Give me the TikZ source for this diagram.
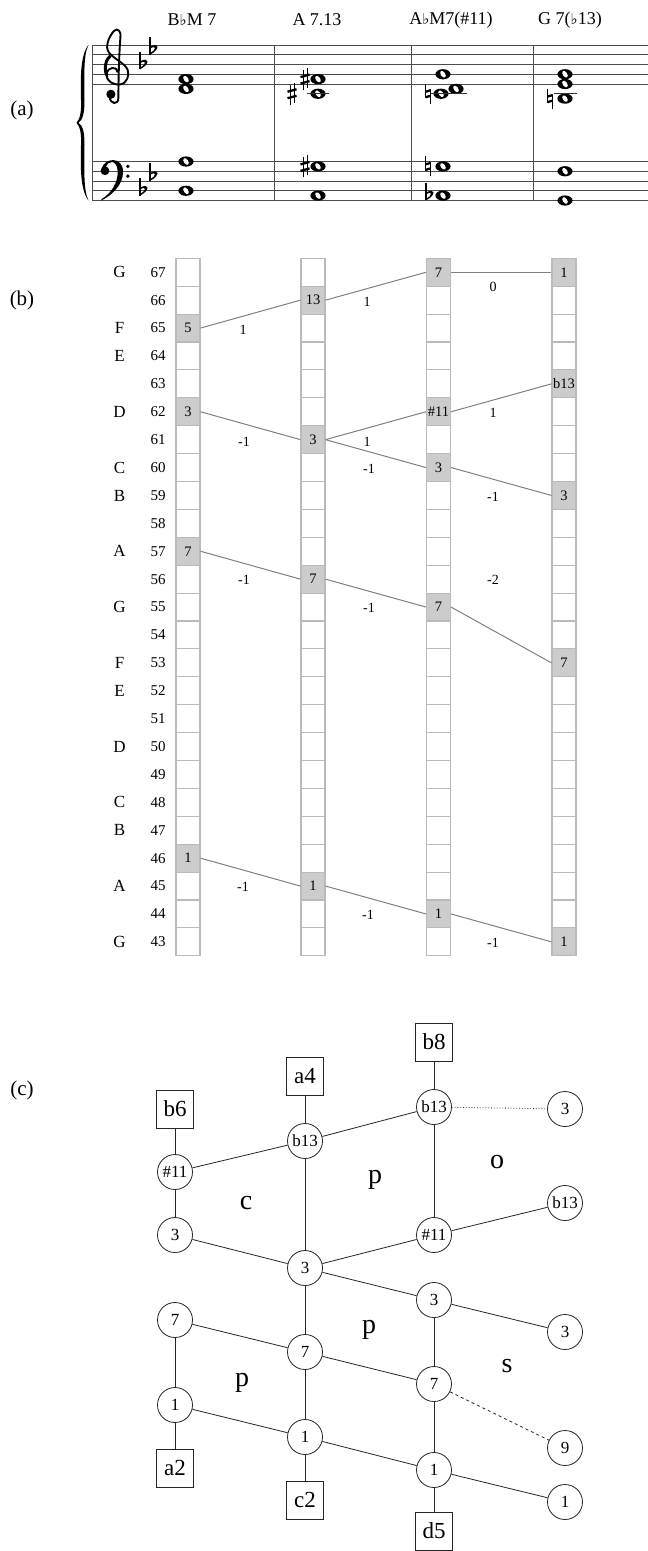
\documentclass[tikz,border=0pt]{standalone}
\usepackage{fontspec}
\setmainfont{Liberation Serif}
\newfontfamily\symfont{DejaVu Sans}
\newcommand{\wnote}[2]{%
  \fill[black] (#1,#2) ellipse [x radius=7.6, y radius=5.1];
  \fill[white, rotate around={35:(#1,#2)}] (#1,#2) ellipse [x radius=2.2, y radius=3.7];}
\newcommand{\mySharp}[2]{%
  \draw[line width=0.9pt] ({#1-2},{#2-9}) -- ({#1-2},{#2+11}) ({#1+2},{#2-11}) -- ({#1+2},{#2+9});
  \draw[line width=2.3pt] ({#1-4.5},{#2-2}) -- ({#1+4.5},{#2-4.5}) ({#1-4.5},{#2+4.5}) -- ({#1+4.5},{#2+2});}
\newcommand{\myFlat}[2]{%
  \draw[line width=1.1pt] ({#1-3},{#2-13}) -- ({#1-3},{#2+4.8});
  \fill ({#1-3},{#2+4.8}) .. controls ({#1+7.5},{#2-0.5}) and ({#1+6.5},{#2-8.5}) .. ({#1-3},{#2-3})
     -- ({#1-3},{#2-1.2}) .. controls ({#1+3.5},{#2-5.5}) and ({#1+3.8},{#2}) .. ({#1-3},{#2+3}) -- cycle;}
\newcommand{\myNatural}[2]{%
  \draw[line width=1pt] ({#1-2.5},{#2-10}) -- ({#1-2.5},{#2+4.5}) ({#1+2.5},{#2-4.5}) -- ({#1+2.5},{#2+10});
  \draw[line width=2.3pt] ({#1-2.5},{#2-2}) -- ({#1+2.5},{#2-3.5}) ({#1-2.5},{#2+3.5}) -- ({#1+2.5},{#2+2});}
\tikzset{
  staffline/.style={draw=black!70, line width=0.9pt},
  ledger/.style={draw=black!80, line width=0.9pt},
  chordlab/.style={font=\fontsize{18}{18}\selectfont},
  panel/.style={font=\fontsize{21}{21}\selectfont},
  cell/.style={rectangle, draw=black!27, line width=1.1pt, minimum width=24pt, minimum height=27.9pt, inner sep=0pt},
  cellon/.style={cell, fill=black!20, font=\fontsize{14.5}{14.5}\selectfont},
  conn/.style={draw=black!50, line width=1pt},
  elab/.style={font=\fontsize{14}{14}\selectfont},
  numlab/.style={font=\fontsize{15}{15}\selectfont},
  letlab/.style={font=\fontsize{17}{17}\selectfont},
  gnode/.style={circle, draw=black!85, line width=0.8pt, minimum size=35pt, inner sep=0pt, font=\fontsize{17}{17}\selectfont},
  gbox/.style={rectangle, draw=black!85, line width=0.8pt, minimum width=37pt, minimum height=38pt, inner sep=0pt, font=\fontsize{23}{23}\selectfont},
  gedge/.style={draw=black!85, line width=0.8pt},
  region/.style={font=\fontsize{28}{28}\selectfont},
}
\begin{document}
\begin{tikzpicture}[x=1pt,y=-1pt]
\useasboundingbox[fill=white] (0,0) rectangle (648,1551);

% ---------------- (a) music ----------------
\node[panel] (pa) at (22,110) {(a)};
\foreach \yy in {45,54.75,64.5,74.25,84,161.5,171.25,181,190.75,200.5}
  \draw[staffline] (92,\yy) -- (648,\yy);
\foreach \xx in {92,274,411,533}
  \draw[staffline] (\xx,45) -- (\xx,200.5);
% brace
\fill (88.5,45) .. controls (80,55) and (80.5,80) .. (81,100) .. controls (81.5,112) and (80,119) .. (76.5,122.75)
  .. controls (80,126.5) and (81.5,133) .. (81,145) .. controls (80.5,165) and (80,190) .. (88.5,200.5)
  .. controls (83,190) and (84.5,165) .. (84.5,145) .. controls (84.5,132) and (83,126) .. (78.5,122.75)
  .. controls (83,119.5) and (84.5,113) .. (84.5,100) .. controls (84.5,80) and (83,55) .. (88.5,45) -- cycle;
% treble clef
\begin{scope}[shift={(115,74.25)}, x=9.75pt, y=9.75pt]
  \draw[line width=1.9pt, line cap=round]
    (0.25,0.25) .. controls (0.3,0.8) and (-0.8,0.85) .. (-0.85,0.0)
    .. controls (-0.9,-0.85) and (0.0,-1.1) .. (0.5,-1.05)
    .. controls (1.25,-0.95) and (1.5,-0.1) .. (1.3,0.45)
    .. controls (1.05,1.1) and (0.0,1.5) .. (-0.6,2.2)
    .. controls (-1.1,2.8) and (-0.6,3.9) .. (-0.1,4.45)
    .. controls (0.3,4.85) and (0.7,4.3) .. (0.55,3.7)
    .. controls (0.45,2.5) and (0.35,0) .. (0.35,-2.4)
    .. controls (0.35,-3.2) and (-0.5,-3.1) .. (-0.55,-2.3);
  \draw[line width=3pt] (-0.45,1.9) .. controls (-1.2,1.3) and (-1.0,0.2) .. (-0.85,-0.1);
  \fill (-0.42,-2.05) circle (0.47);
\end{scope}
% bass clef
\begin{scope}[shift={(105,171.25)}, x=9.75pt, y=9.75pt]
  \fill (-0.35,0.3) .. controls (0.0,1.4) and (1.8,1.55) .. (1.85,0.0)
    .. controls (1.9,-1.5) and (0.5,-2.6) .. (-0.4,-3.0)
    -- (-0.35,-2.85) .. controls (0.6,-2.3) and (1.35,-1.2) .. (1.3,0.0)
    .. controls (1.25,1.2) and (0.3,1.2) .. (0.1,0.4) -- cycle;
  \fill (0.0,0.05) circle (0.45);
  \fill (2.35,0.5) circle (0.19) (2.35,-0.5) circle (0.19);
\end{scope}
% key signatures
\myFlat{143}{64.5}
\myFlat{153}{49.9}
\myFlat{143}{190.75}
\myFlat{153}{176.1}
% chord labels
\node[chordlab] (ch1) at (192,20) {B{\symfont\fontsize{15}{15}\selectfont ♭}M 7};
\node[chordlab] (ch2) at (317,20) {A 7.13};
\node[chordlab] (ch3) at (451,20) {A{\symfont\fontsize{15}{15}\selectfont ♭}M7(\#11)};
\node[chordlab] (ch4) at (570,20) {G 7({\symfont\fontsize{15}{15}\selectfont ♭}13)};
% measure 1
\wnote{186}{79.1} \wnote{186}{88.9}
\wnote{186}{161.5} \wnote{186}{190.75}
% measure 2
\wnote{318}{79.1} \wnote{318}{93.75}
\draw[ledger] (307,93.75) -- (329,93.75);
\mySharp{305}{79.1} \mySharp{292}{93.75}
\wnote{318}{166.4} \mySharp{305}{166.4}
\wnote{318}{195.6}
% measure 3
\wnote{443}{74.25} \wnote{441}{93.75} \wnote{456}{88.9}
\draw[ledger] (431,93.75) -- (467,93.75);
\myNatural{428}{93.75}
\wnote{443}{166.4} \myNatural{428}{166.4}
\wnote{443}{195.6} \myFlat{429}{195.6}
% measure 4
\wnote{565}{74.25} \wnote{565}{84} \wnote{565}{98.6}
\draw[ledger] (554,93.75) -- (577,93.75);
\myNatural{550}{98.6}
\wnote{565}{171.25} \wnote{565}{200.5}

% ---------------- (b) grid ----------------
\node[panel] (pb) at (22,300) {(b)};
\foreach \col/\x in {1/188,2/313,3/438.5,4/564}{
  \foreach \m in {43,...,67}{
    \pgfmathsetmacro{\yy}{272.25+(67-\m)*27.9}
    \node[cell] (e\col-\m) at (\x,\yy) {};
  }
}
\foreach \m in {43,...,67}{
  \pgfmathsetmacro{\yy}{272.25+(67-\m)*27.9}
  \node[numlab] (num\m) at (158,\yy) {\m};
}
\foreach \m/\t in {67/G,65/F,64/E,62/D,60/C,59/B,57/A,55/G,53/F,52/E,50/D,48/C,47/B,45/A,43/G}{
  \pgfmathsetmacro{\yy}{272.25+(67-\m)*27.9}
  \node[letlab] (let\m) at (119.5,\yy) {\t};
}
\foreach \col/\x/\m/\t in {1/188/65/5,1/188/62/3,1/188/57/7,1/188/46/1,
  2/313/66/13,2/313/61/3,2/313/56/7,2/313/45/1,
  3/438.5/67/7,3/438.5/62/{\#11},3/438.5/60/3,3/438.5/55/7,3/438.5/44/1,
  4/564/67/1,4/564/63/b13,4/564/59/3,4/564/53/7,4/564/43/1}{
  \pgfmathsetmacro{\yy}{272.25+(67-\m)*27.9}
  \node[cellon] (n\col-\m) at (\x,\yy) {\t};
}
\draw[conn] (n1-65.east) -- (n2-66.west);
\draw[conn] (n1-62.east) -- (n2-61.west);
\draw[conn] (n1-57.east) -- (n2-56.west);
\draw[conn] (n1-46.east) -- (n2-45.west);
\draw[conn] (n2-66.east) -- (n3-67.west);
\draw[conn] (n2-61.east) -- (n3-62.west);
\draw[conn] (n2-61.east) -- (n3-60.west);
\draw[conn] (n2-56.east) -- (n3-55.west);
\draw[conn] (n2-45.east) -- (n3-44.west);
\draw[conn] (n3-67.east) -- (n4-67.west);
\draw[conn] (n3-62.east) -- (n4-63.west);
\draw[conn] (n3-60.east) -- (n4-59.west);
\draw[conn] (n3-55.east) -- (n4-53.west);
\draw[conn] (n3-44.east) -- (n4-43.west);
\node[elab] (d1) at (243,330) {1};
\node[elab] (d2) at (244,441.5) {-1};
\node[elab] (d3) at (244,580) {-1};
\node[elab] (d4) at (243,887) {-1};
\node[elab] (d5) at (367,301.5) {1};
\node[elab] (d6) at (367,441.5) {1};
\node[elab] (d7) at (369,469) {-1};
\node[elab] (d8) at (369,608) {-1};
\node[elab] (d9) at (368,915) {-1};
\node[elab] (d10) at (493,287) {0};
\node[elab] (d11) at (493,413) {1};
\node[elab] (d12) at (493,497) {-1};
\node[elab] (d13) at (493,580) {-2};
\node[elab] (d14) at (493,943) {-1};

% ---------------- (c) graph ----------------
\node[panel] (pc) at (22,1090) {(c)};
\node[gbox] (b6) at (175,1109) {b6};
\node[gnode] (l11) at (175,1172) {\#11};
\node[gnode] (l3) at (175,1235) {3};
\node[gnode] (l7) at (175,1320) {7};
\node[gnode] (l1) at (175,1405) {1};
\node[gbox] (a2) at (175,1468) {a2};
\node[gbox] (a4) at (305,1076) {a4};
\node[gnode] (m13) at (305,1141) {b13};
\node[gnode] (m3) at (305,1268) {3};
\node[gnode] (m7) at (305,1352) {7};
\node[gnode] (m1) at (305,1437) {1};
\node[gbox] (c2) at (305,1500) {c2};
\node[gbox] (b8) at (434,1042) {b8};
\node[gnode] (n13) at (434,1107) {b13};
\node[gnode] (n11) at (434,1235) {\#11};
\node[gnode] (n3) at (434,1300) {3};
\node[gnode] (n7) at (434,1384) {7};
\node[gnode] (n1) at (434,1470) {1};
\node[gbox] (d5b) at (434,1531) {d5};
\node[gnode] (r3a) at (565,1109) {3};
\node[gnode] (r13) at (565,1203) {b13};
\node[gnode] (r3) at (565,1332) {3};
\node[gnode] (r9) at (565,1448) {9};
\node[gnode] (r1) at (565,1502) {1};
\draw[gedge] (b6) -- (l11);
\draw[gedge] (l11) -- (l3);
\draw[gedge] (l7) -- (l1);
\draw[gedge] (l1) -- (a2);
\draw[gedge] (a4) -- (m13);
\draw[gedge] (m13) -- (m3);
\draw[gedge] (m3) -- (m7);
\draw[gedge] (m7) -- (m1);
\draw[gedge] (m1) -- (c2);
\draw[gedge] (b8) -- (n13);
\draw[gedge] (n13) -- (n11);
\draw[gedge] (n3) -- (n7);
\draw[gedge] (n7) -- (n1);
\draw[gedge] (n1) -- (d5b);
\draw[gedge] (l11) -- (m13);
\draw[gedge] (m13) -- (n13);
\draw[gedge, dotted] (n13) -- (r3a);
\draw[gedge] (n11) -- (r13);
\draw[gedge] (l3) -- (m3);
\draw[gedge] (m3) -- (n11);
\draw[gedge] (m3) -- (n3);
\draw[gedge] (n3) -- (r3);
\draw[gedge] (l7) -- (m7);
\draw[gedge] (m7) -- (n7);
\draw[gedge, dashed] (n7) -- (r9);
\draw[gedge] (l1) -- (m1);
\draw[gedge] (m1) -- (n1);
\draw[gedge] (n1) -- (r1);
\node[region] (rc) at (246,1203) {c};
\node[region] (rp1) at (375,1180) {p};
\node[region] (ro) at (497,1162) {o};
\node[region] (rp2) at (369,1330) {p};
\node[region] (rs) at (507,1366) {s};
\node[region] (rp3) at (242,1383) {p};
\end{tikzpicture}
\end{document}
